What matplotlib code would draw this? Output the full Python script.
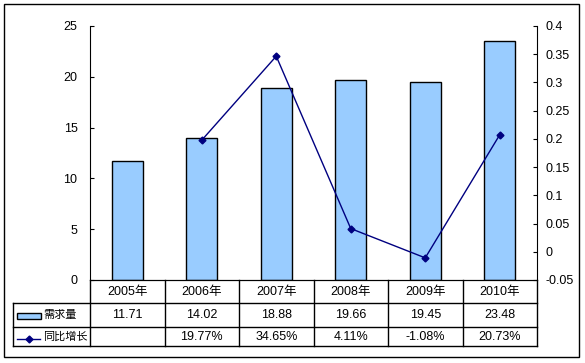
import matplotlib
matplotlib.use("Agg")
import matplotlib.pyplot as plt
import matplotlib.transforms as mtransforms
from matplotlib.patches import Rectangle
from matplotlib.lines import Line2D

plt.rcParams['font.family'] = ['Liberation Sans', 'Noto Sans CJK SC']

# data
years = ["2005年", "2006年", "2007年", "2008年", "2009年", "2010年"]
demand = [11.71, 14.02, 18.88, 19.66, 19.45, 23.48]
growth = [None, 0.1977, 0.3465, 0.0411, -0.0108, 0.2073]
demand_labels = ["11.71", "14.02", "18.88", "19.66", "19.45", "23.48"]
growth_labels = ["", "19.77%", "34.65%", "4.11%", "-1.08%", "20.73%"]
series_names = ["需求量", "同比增长"]

W, H = 585, 363
fig = plt.figure(figsize=(W / 100, H / 100), dpi=100)


def fx(px):
    return px / W


def fy(py):
    return 1 - py / H


# outer frame
fig.patches.append(Rectangle((fx(4), fy(357)), fx(575), 353 / H, transform=fig.transFigure,
                             fill=False, edgecolor='black', linewidth=1))

ax = fig.add_axes([fx(90), fy(280), fx(537 - 90), (280 - 26) / H])
x = list(range(len(years)))
ax.bar(x, demand, width=0.42, color='#99CCFF', edgecolor='black', linewidth=1, zorder=2)
ax.set_xlim(-0.5, len(years) - 0.5)
ax.set_ylim(0, 25)
ax.set_yticks([0, 5, 10, 15, 20, 25])
ax.set_xticks([])
ax.spines['top'].set_visible(False)
ax.spines['right'].set_visible(False)
ax.tick_params(axis='y', direction='in', length=3, pad=9, labelsize=9)

ax2 = ax.twinx()
gx = [i for i, g in zip(x, growth) if g is not None]
gy = [g for g in growth if g is not None]
ax2.plot(gx, gy, color='#000080', linewidth=1, marker='D', markersize=3.5, zorder=3)
ax2.set_ylim(-0.05, 0.4)
ax2.set_yticks([-0.05, 0, 0.05, 0.1, 0.15, 0.2, 0.25, 0.3, 0.35, 0.4])
ax2.set_yticklabels(["-0.05", "0", "0.05", "0.1", "0.15", "0.2", "0.25", "0.3", "0.35", "0.4"])
ax2.spines['top'].set_visible(False)
ax2.spines['left'].set_visible(False)
ax2.tick_params(axis='y', direction='in', length=3, pad=6, labelsize=9)

# data table below the axes
trans = mtransforms.blended_transform_factory(ax.transData, fig.transFigure)
rows_y = [280, 303, 327, 346]
for yb in rows_y[1:]:
    fig.lines.append(Line2D([fx(13), fx(537)], [fy(yb), fy(yb)], transform=fig.transFigure,
                            color='black', linewidth=1))
for b in [i - 0.5 for i in range(len(years) + 1)]:
    ax.plot([b, b], [fy(280), fy(346)], transform=trans, color='black', linewidth=1, clip_on=False)
fig.lines.append(Line2D([fx(13), fx(13)], [fy(303), fy(346)], transform=fig.transFigure,
                        color='black', linewidth=1))

for i in x:
    ax.text(i, fy(291.5), years[i], transform=trans, ha='center', va='center', fontsize=9)
    ax.text(i, fy(315), demand_labels[i], transform=trans, ha='center', va='center', fontsize=9)
    ax.text(i, fy(336.5), growth_labels[i], transform=trans, ha='center', va='center', fontsize=9)

# legend keys inside table
fig.patches.append(Rectangle((fx(17), fy(319)), fx(24), 6 / H, transform=fig.transFigure,
                             facecolor='#99CCFF', edgecolor='black', linewidth=1))
fig.lines.append(Line2D([fx(17), fx(40)], [fy(339), fy(339)], transform=fig.transFigure,
                        color='#000080', linewidth=1))
fig.lines.append(Line2D([fx(28.5)], [fy(339)], transform=fig.transFigure, color='#000080',
                        marker='D', markersize=3.5))
fig.text(fx(43), fy(314.5), series_names[0], ha='left', va='center', fontsize=8)
fig.text(fx(43), fy(336.5), series_names[1], ha='left', va='center', fontsize=8)

fig.savefig("out.png", dpi=100)
